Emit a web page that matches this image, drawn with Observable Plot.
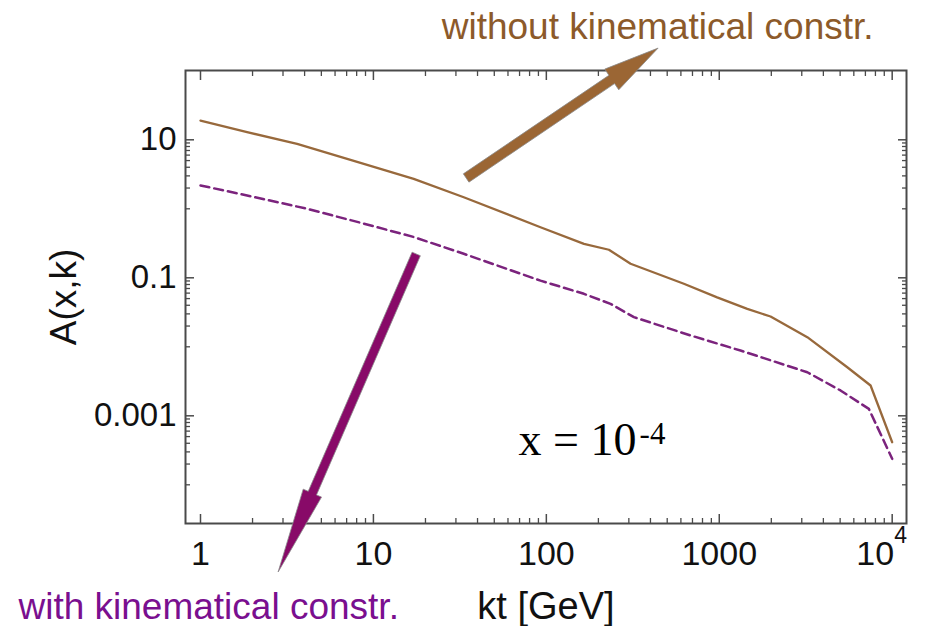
<!DOCTYPE html>
<html><head><meta charset="utf-8">
<script src="https://cdn.jsdelivr.net/npm/d3@7"></script>
<script src="https://cdn.jsdelivr.net/npm/@observablehq/plot@0.6"></script>
<style>html,body{margin:0;padding:0;background:#fff;} svg{display:block}</style>
</head><body><div id="chart"></div>
<script>
// --- data ---
const ktWithout = [1, 1.86, 3.62, 7.05, 17.1, 33.3, 92.5, 165, 230, 307, 624, 972, 1452, 1980, 3230, 5500, 7500, 10000];
const aWithout  = [19.0, 12.9, 8.75, 5.3, 2.72, 1.47, 0.54, 0.31, 0.255, 0.16, 0.082, 0.052, 0.0355, 0.0275, 0.0138, 0.00506, 0.00275, 0.000414];
const ktWith = [1, 1.86, 4.14, 8.8, 17.1, 33.3, 92.5, 165, 235, 321, 683, 1327, 3230, 5025, 7330, 10000];
const aWith  = [2.18, 1.56, 1.0, 0.61, 0.39, 0.223, 0.091, 0.0586, 0.042, 0.0269, 0.0146, 0.00883, 0.00428, 0.00233, 0.00126, 0.000238];

const xMajor = [1, 10, 100, 1000];
const xTickLabels = ["1", "10", "100", "1000"];
const xLast = 10000;
const xLastBase = "10";
const xLastExp = "4";
const yMajor = [10, 0.1, 0.001];
const yTickLabels = ["10", "0.1", "0.001"];
const xMinor = [2,3,4,5,6,7,8,9, 20,30,40,50,60,70,80,90, 200,300,400,500,600,700,800,900, 2000,3000,4000,5000,6000,7000,8000,9000];
const yMinor = [1,2,3,4,5,6,7,8,9, 0.01,0.02,0.03,0.04,0.05,0.06,0.07,0.08,0.09, 0.0001,0.0002,0.0003,0.0004,0.0005,0.0006,0.0007,0.0008,0.0009];

const labelWithout = "without kinematical constr.";
const labelWith = "with kinematical constr.";
const xLabel = "kt [GeV]";
const yLabel = "A(x,k)";
const xNote = "x = 10";
const xNoteExp = "-4";

// annotation anchors (data coordinates)
const arrowWithout = {from: [34.6, 2.75], to: [446, 210]};
const arrowWith = {from: [17.8, 0.218], to: [2.83, 5.36e-6]};
const labelWithoutPos = [7805, 290];
const labelWithPos = [0.0886, 1.12e-6];
const notePos = [69.1, 2.66e-4];
const noteExpPos = [346, 3.84e-4];

const withoutData = ktWithout.map((k, i) => ({kt: k, A: aWithout[i]}));
const withData = ktWith.map((k, i) => ({kt: k, A: aWith[i]}));

const axisColor = "#4a4a4a";
const sans = "'Liberation Sans', Arial, Helvetica, sans-serif";
const serif = "'Liberation Serif', 'Times New Roman', serif";

const chart = Plot.plot({
  width: 931, height: 626,
  marginLeft: 185, marginRight: 25, marginTop: 70, marginBottom: 103,
  style: {fontFamily: sans, fontSize: "33px", color: "#111", background: "#fff", overflow: "visible"},
  x: {type: "log", domain: [0.819, 12100]},
  y: {type: "log", domain: [2.75e-5, 101]},
  marks: [
    // inward ticks on all four sides
    Plot.axisX([...xMajor, xLast], {anchor: "bottom", tickSize: -9, tickFormat: () => "", label: null, stroke: axisColor, strokeWidth: 1.5}),
    Plot.axisX(xMinor, {anchor: "bottom", tickSize: -5, tickFormat: () => "", label: null, stroke: axisColor, strokeWidth: 1.3}),
    Plot.axisX([...xMajor, xLast], {anchor: "top", tickSize: -9, tickFormat: () => "", label: null, stroke: axisColor, strokeWidth: 1.5}),
    Plot.axisX(xMinor, {anchor: "top", tickSize: -5, tickFormat: () => "", label: null, stroke: axisColor, strokeWidth: 1.3}),
    Plot.axisY(yMajor, {anchor: "left", tickSize: -9, tickFormat: () => "", label: null, stroke: axisColor, strokeWidth: 1.5}),
    Plot.axisY(yMinor, {anchor: "left", tickSize: -5, tickFormat: () => "", label: null, stroke: axisColor, strokeWidth: 1.3}),
    Plot.axisY(yMajor, {anchor: "right", tickSize: -9, tickFormat: () => "", label: null, stroke: axisColor, strokeWidth: 1.5}),
    Plot.axisY(yMinor, {anchor: "right", tickSize: -5, tickFormat: () => "", label: null, stroke: axisColor, strokeWidth: 1.3}),
    // tick labels and axis titles
    Plot.axisX(xMajor, {anchor: "bottom", tickSize: 0, tickPadding: 17, fontSize: 34,
      tickFormat: d => xTickLabels[xMajor.indexOf(d)],
      label: xLabel, labelAnchor: "center", labelOffset: 95, labelArrow: "none"}),
    Plot.text([xLastBase], {x: () => xLast, text: d => d, frameAnchor: "bottom", textAnchor: "end", lineAnchor: "top",
      dx: 2, dy: 17, fontSize: 34, fill: "#111", clip: false}),
    Plot.text([xLastExp], {x: () => xLast, text: d => d, frameAnchor: "bottom", textAnchor: "start", lineAnchor: "top",
      dx: 2, dy: 3, fontSize: 23, fill: "#111", clip: false}),
    Plot.axisY(yMajor, {anchor: "left", tickSize: 0, tickPadding: 9, fontSize: 33,
      tickFormat: d => yTickLabels[yMajor.indexOf(d)],
      label: yLabel, labelAnchor: "center", labelOffset: 136, labelArrow: "none"}),
    Plot.frame({stroke: axisColor, strokeWidth: 2}),
    // curves
    Plot.line(withoutData, {x: "kt", y: "A", stroke: "#98693c", strokeWidth: 2.3}),
    Plot.line(withData, {x: "kt", y: "A", stroke: "#7b237d", strokeWidth: 2.5, strokeDasharray: "9,5"}),
    // annotations
    Plot.text([labelWithout], {x: () => labelWithoutPos[0], y: () => labelWithoutPos[1], text: d => d,
      textAnchor: "end", lineAnchor: "bottom", fill: "#8c5a2a", fontSize: 37, clip: false}),
    Plot.text([labelWith], {x: () => labelWithPos[0], y: () => labelWithPos[1], text: d => d,
      textAnchor: "start", lineAnchor: "bottom", fill: "#7a0f8f", fontSize: 37, clip: false}),
    Plot.text([xNote], {x: () => notePos[0], y: () => notePos[1], text: d => d,
      textAnchor: "start", lineAnchor: "bottom", fill: "#000", fontSize: 46, fontFamily: serif}),
    Plot.text([xNoteExp], {x: () => noteExpPos[0], y: () => noteExpPos[1], text: d => d,
      textAnchor: "start", lineAnchor: "bottom", fill: "#000", fontSize: 31, fontFamily: serif})
  ]
});

// axis title sizes
d3.select(chart).selectAll("[aria-label='y-axis label'] text").attr("font-size", 37);
d3.select(chart).selectAll("[aria-label='x-axis label'] text").attr("font-size", 38);

document.getElementById("chart").append(chart);

// filled block arrows positioned through the plot's own scales
const sx = chart.scale("x"), sy = chart.scale("y");
function drawArrow(spec, color, shaftW, headL, headW) {
  const x0 = sx.apply(spec.from[0]), y0 = sy.apply(spec.from[1]);
  const x1 = sx.apply(spec.to[0]), y1 = sy.apply(spec.to[1]);
  const len = Math.hypot(x1 - x0, y1 - y0);
  const ux = (x1 - x0) / len, uy = (y1 - y0) / len;
  const nx = -uy, ny = ux;
  const bx = x1 - ux * headL, by = y1 - uy * headL;
  const pts = [
    [x0 + nx * shaftW / 2, y0 + ny * shaftW / 2],
    [bx + nx * shaftW / 2, by + ny * shaftW / 2],
    [bx + nx * headW / 2, by + ny * headW / 2],
    [x1, y1],
    [bx - nx * headW / 2, by - ny * headW / 2],
    [bx - nx * shaftW / 2, by - ny * shaftW / 2],
    [x0 - nx * shaftW / 2, y0 - ny * shaftW / 2]
  ];
  d3.select(chart).append("polygon")
    .attr("points", pts.map(p => p.join(",")).join(" "))
    .attr("fill", color)
    .attr("stroke", "#8a8a8a")
    .attr("stroke-width", 0.8)
    .attr("stroke-linejoin", "miter");
}
drawArrow(arrowWithout, "#9b6634", 10, 56, 25);
drawArrow(arrowWith, "#880a68", 9, 86, 20);
</script>
</body></html>
